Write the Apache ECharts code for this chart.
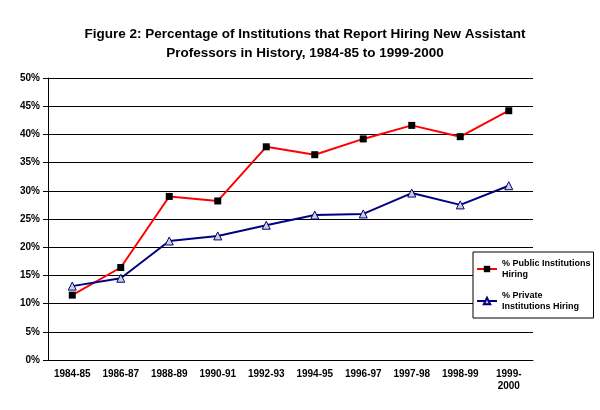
<!DOCTYPE html>
<html>
<head>
<meta charset="utf-8">
<script src="https://cdn.jsdelivr.net/npm/echarts@6/dist/echarts.min.js"></script>
<style>body{margin:0;background:#fff}#chart{width:600px;height:410px}</style>
</head>
<body>
<div id="chart"></div>
<script>
var years = ['1984-85', '1986-87', '1988-89', '1990-91', '1992-93', '1994-95', '1996-97', '1997-98', '1998-99', '1999-\n2000'];
var publicHiring = [11.5, 16.4, 29.0, 28.2, 37.8, 36.4, 39.2, 41.6, 39.6, 44.2];
var privateHiring = [13.1, 14.5, 21.1, 22.0, 23.9, 25.7, 25.9, 29.6, 27.5, 30.9];

var font = 'Liberation Sans';
echarts.init(document.querySelector('#chart')).setOption({
  animation: false,
  textStyle: { fontFamily: font },
  title: {
    text: 'Figure 2: Percentage of Institutions that Report Hiring New Assistant\nProfessors in History, 1984-85 to 1999-2000',
    left: 300, top: 20, textAlign: 'center',
    textStyle: { fontSize: 13.5, fontWeight: 'bold', color: '#000', lineHeight: 19, fontFamily: font }
  },
  grid: { left: 48, right: 67, top: 78, bottom: 50 },
  legend: {
    orient: 'vertical', left: 473, top: 252, itemGap: 10,
    borderColor: '#000', borderWidth: 1, backgroundColor: '#fff', padding: [6, 3, 6, 3],
    itemWidth: 20, itemHeight: 8,
    textStyle: { fontSize: 9, fontWeight: 'bold', color: '#000', lineHeight: 11 },
    data: ['% Public Institutions\nHiring', '% Private\nInstitutions Hiring']
  },
  xAxis: {
    type: 'category', data: years, boundaryGap: true,
    axisLine: { lineStyle: { color: '#000' } },
    axisTick: { lineStyle: { color: '#000' } },
    axisLabel: { fontSize: 10, fontWeight: 'bold', color: '#000', interval: 0, lineHeight: 12 }
  },
  yAxis: {
    type: 'value', min: 0, max: 50, interval: 5,
    axisLine: { show: true, lineStyle: { color: '#000' } },
    axisTick: { show: true, lineStyle: { color: '#000' } },
    splitLine: { lineStyle: { color: '#000' } },
    axisLabel: { fontSize: 10, fontWeight: 'bold', color: '#000', formatter: '{value}%' }
  },
  series: [{
    name: '% Public Institutions\nHiring', type: 'line', data: publicHiring,
    symbol: 'rect', symbolSize: 7,
    lineStyle: { color: '#ff0000', width: 2 },
    itemStyle: { color: '#000' }
  }, {
    name: '% Private\nInstitutions Hiring', type: 'line', data: privateHiring,
    symbol: 'triangle', symbolSize: 8,
    lineStyle: { color: '#000080', width: 2 },
    itemStyle: { color: '#d0d0d0', borderColor: '#000080', borderWidth: 1 }
  }]
});
</script>
</body>
</html>
